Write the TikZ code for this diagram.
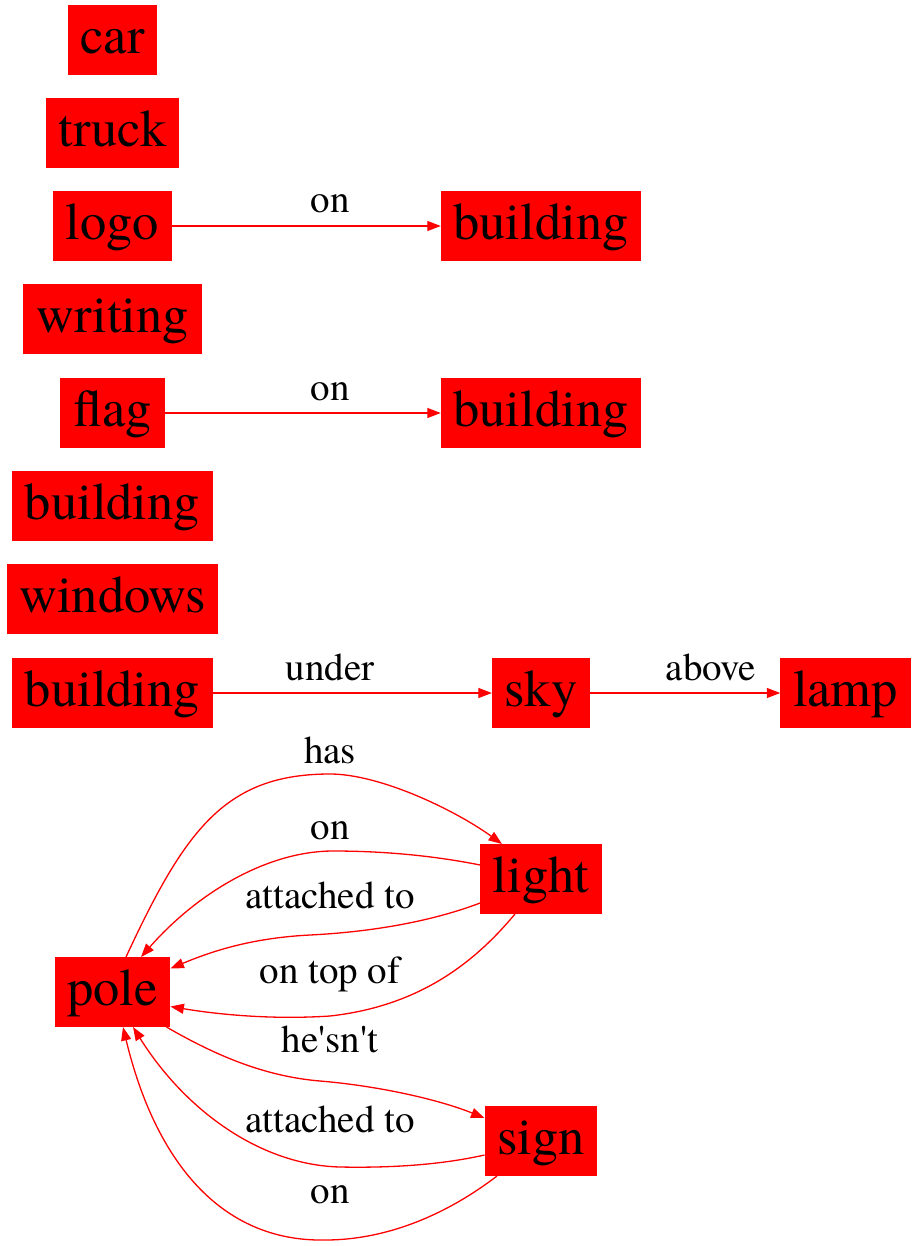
\documentclass[tikz,border=0pt]{standalone}
\usepackage{fontspec}
\IfFontExistsTF{TeX Gyre Termes}{\setmainfont{TeX Gyre Termes}}{}
\usetikzlibrary{arrows.meta,calc}
\begin{document}
\begin{tikzpicture}[x=1pt,y=-1pt,
  obj/.style={fill=red, inner xsep=12.7pt, inner ysep=0pt, minimum height=70pt,
    text height=38pt, text depth=11pt, font=\fontsize{52.5}{60}\selectfont, outer sep=0pt},
  rel/.style={font=\fontsize{39}{45}\selectfont, anchor=base, inner sep=0pt},
  edge/.style={draw=red, line width=1.3pt, -{Triangle[length=13.5pt,width=10pt]}}]
\path[use as bounding box] (0,0) rectangle (915,1246);
% left column
\node[obj] (car) at (112.5,40) {car};
\node[obj] (truck) at (112.5,133) {truck};
\node[obj] (logo) at (112.5,226) {logo};
\node[obj] (writing) at (112.5,319) {writing};
\node[obj] (flag) at (112.5,413) {flag};
\node[obj] (bC) at (112.5,506) {building};
\node[obj] (windows) at (112.5,599) {windows};
\node[obj] (bD) at (112.5,693) {building};
\node[obj] (pole) at (112.5,992) {pole};
% right columns
\node[obj] (bA) at (541,226) {building};
\node[obj] (bB) at (541,413) {building};
\node[obj] (sky) at (541,693) {sky};
\node[obj] (lamp) at (845.5,693) {lamp};
\node[obj] (light) at (541,879) {light};
\node[obj] (sign) at (541,1141) {sign};
% straight edges
\draw[edge] (logo) -- (bA);
\draw[edge] (flag) -- (bB);
\draw[edge] (bD) -- (sky);
\draw[edge] (sky) -- (lamp);
\node[rel] (lon1) at (330,213) {on};
\node[rel] (lon2) at (330,400) {on};
\node[rel] (lunder) at (330,680) {under};
\node[rel] (labove) at (711,680) {above};
% pole - light
\draw[edge] ($(pole.north)+(13.5,0)$) .. controls (185,830) and (225,774) .. (330,774)
  .. controls (380,774) and (455,810) .. ($(light.north)+(-39,0)$);
\draw[edge] ($(light.west)+(0,-14)$) .. controls (430,855) and (380,851) .. (333,851)
  .. controls (270,851) and (200,890) .. ($(pole.north)+(28.5,0)$);
\draw[edge] ($(light.west)+(0,24)$) .. controls (430,922) and (370,932) .. (310,935)
  .. controls (250,938) and (210,952) .. ($(pole.east)+(0,-23.5)$);
\draw[edge] ($(light.south)+(-26,0)$) .. controls (475,962) and (420,1006) .. (330,1016)
  .. controls (270,1020) and (215,1014) .. ($(pole.east)+(0,14.5)$);
% pole - sign
\draw[edge] ($(pole.south east)+(-4,0)$) .. controls (210,1052) and (260,1076) .. (320,1081)
  .. controls (380,1086) and (440,1100) .. ($(sign.west)+(0,-23)$);
\draw[edge] ($(sign.west)+(0,14)$) .. controls (440,1165) and (390,1168) .. (340,1167)
  .. controls (260,1165) and (185,1110) .. ($(pole.south)+(20.5,0)$);
\draw[edge] ($(sign.south)+(-44,0)$) .. controls (450,1212) and (390,1240) .. (325,1240)
  .. controls (220,1242) and (155,1160) .. ($(pole.south)+(10.5,0)$);
\node[rel] (lhas) at (330,763) {has};
\node[rel] (lon3) at (330,839) {on};
\node[rel] (latt1) at (330,908) {attached to};
\node[rel] (lontop) at (330,983) {on top of};
\node[rel] (lhesnt) at (330,1052) {he\textquotesingle sn\textquotesingle t};
\node[rel] (latt2) at (330,1132) {attached to};
\node[rel] (lon4) at (330,1203) {on};
\end{tikzpicture}
\end{document}
